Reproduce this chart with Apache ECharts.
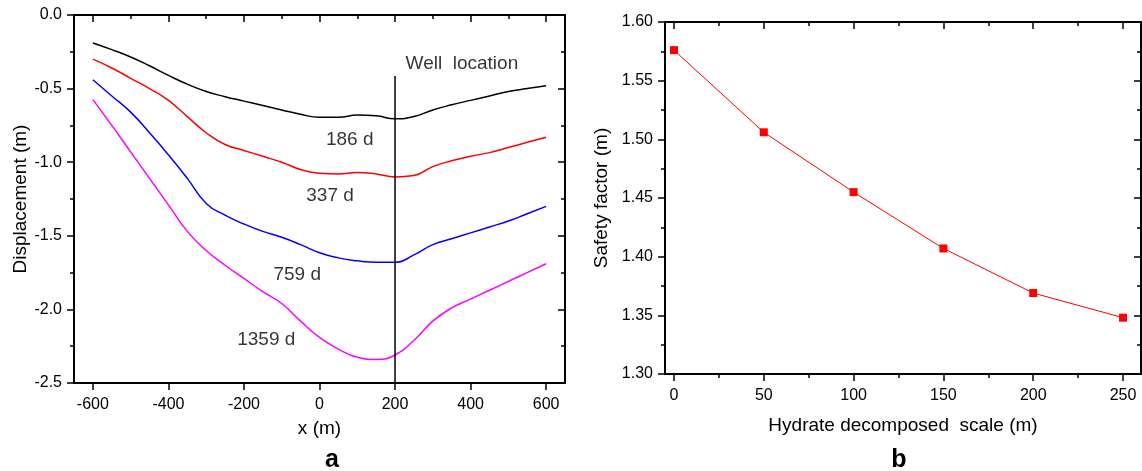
<!DOCTYPE html>
<html>
<head>
<meta charset="utf-8">
<script src="https://cdn.jsdelivr.net/npm/echarts@6/dist/echarts.min.js"></script>
<style>
html, body { margin: 0; padding: 0; background: #fff; }
#chart { width: 1142px; height: 471px; }
</style>
</head>
<body>
<div id="chart"></div>
<script>
// ---- Panel a: surface displacement along x for four production times ----
const xPos = [-600, -550, -500, -450, -400, -350, -300, -250, -200, -150, -100, -50, 0,
              50, 100, 150, 200, 250, 300, 350, 400, 450, 500, 550, 600];
const disp186 = [-0.19, -0.235, -0.285, -0.345, -0.41, -0.47, -0.52, -0.555, -0.585, -0.615, -0.645, -0.675, -0.695,
                 -0.695, -0.68, -0.685, -0.705, -0.69, -0.645, -0.61, -0.58, -0.55, -0.52, -0.50, -0.48];
const disp337 = [-0.30, -0.36, -0.43, -0.50, -0.58, -0.69, -0.80, -0.88, -0.92, -0.96, -1.00, -1.05, -1.075,
                 -1.08, -1.07, -1.08, -1.10, -1.09, -1.03, -0.99, -0.96, -0.935, -0.90, -0.865, -0.83];
const disp759 = [-0.44, -0.55, -0.66, -0.80, -0.95, -1.11, -1.28, -1.36, -1.42, -1.47, -1.51, -1.56, -1.615,
                 -1.65, -1.67, -1.68, -1.68, -1.63, -1.56, -1.52, -1.48, -1.44, -1.40, -1.35, -1.30];
const disp1359 = [-0.575, -0.75, -0.93, -1.11, -1.29, -1.47, -1.60, -1.70, -1.79, -1.88, -1.96, -2.08, -2.19,
                  -2.27, -2.325, -2.34, -2.31, -2.21, -2.08, -1.99, -1.93, -1.87, -1.81, -1.75, -1.69];
const curveNames = ['186 d', '337 d', '759 d', '1359 d'];
const curveColors = ['#000000', '#ff0000', '#0000ff', '#ff00ff'];

// Well marker and text annotations (data coordinates)
const wellX = 200;
const wellTop = -0.415;
const noteText = ['186 d', '337 d', '759 d', '1359 d', 'Well  location'];
const noteX = [80, 28, -59, -141, 377];
const noteY = [-0.845, -1.23, -1.766, -2.208, -0.33];

const xTicksA = [-600, -400, -200, 0, 200, 400, 600];
const xMinorA = [-500, -300, -100, 100, 300, 500];

// ---- Panel b: safety factor vs hydrate decomposed scale ----
const scaleB = [0, 50, 100, 150, 200, 250];
const safetyB = [1.576, 1.506, 1.455, 1.407, 1.369, 1.348];
const xTicksB = [0, 50, 100, 150, 200, 250];
const xMinorB = [25, 75, 125, 175, 225];

const FONT = '"Liberation Sans", Arial, sans-serif';
const lineStyleAxis = { color: '#000', width: 2 };
const tickStyle = { color: '#000', width: 1.5 };

function zip(xs, ys) { return xs.map((x, i) => [x, ys[i]]); }

function xAxisSet(grid, min, max, major, minor, name, nameGap) {
  return [
    { gridIndex: grid, type: 'value', position: 'bottom', min, max,
      axisLine: { show: true, onZero: false, lineStyle: lineStyleAxis },
      axisTick: { show: true, inside: false, length: 7, lineStyle: tickStyle, customValues: major },
      axisLabel: { show: true, customValues: major, margin: 14, fontSize: 16, color: '#000', fontFamily: FONT },
      splitLine: { show: false },
      name, nameLocation: 'middle', nameGap,
      nameTextStyle: { fontSize: 19, color: '#000', fontFamily: FONT } },
    { gridIndex: grid, type: 'value', position: 'bottom', min, max,
      axisLine: { show: false },
      axisTick: { show: true, inside: false, length: 4, lineStyle: tickStyle, customValues: minor },
      axisLabel: { show: false }, splitLine: { show: false } },
    { gridIndex: grid, type: 'value', position: 'top', min, max,
      axisLine: { show: true, onZero: false, lineStyle: lineStyleAxis },
      axisTick: { show: true, inside: true, length: 7, lineStyle: tickStyle, customValues: major },
      axisLabel: { show: false }, splitLine: { show: false } },
    { gridIndex: grid, type: 'value', position: 'top', min, max,
      axisLine: { show: false },
      axisTick: { show: true, inside: true, length: 4, lineStyle: tickStyle, customValues: minor },
      axisLabel: { show: false }, splitLine: { show: false } }
  ];
}

function yAxisSet(grid, min, max, interval, digits, name, nameGap) {
  return [
    { gridIndex: grid, type: 'value', position: 'left', min, max, interval,
      axisLine: { show: true, onZero: false, lineStyle: lineStyleAxis },
      axisTick: { show: true, inside: false, length: 7, lineStyle: tickStyle },
      minorTick: { show: true, splitNumber: 2, length: 4, lineStyle: tickStyle },
      axisLabel: { show: true, margin: 12, fontSize: 16, color: '#000', fontFamily: FONT,
                   formatter: v => v.toFixed(digits) },
      splitLine: { show: false }, minorSplitLine: { show: false },
      name, nameLocation: 'middle', nameGap,
      nameTextStyle: { fontSize: 19, color: '#000', fontFamily: FONT } },
    { gridIndex: grid, type: 'value', position: 'right', min, max, interval,
      axisLine: { show: true, onZero: false, lineStyle: lineStyleAxis },
      axisTick: { show: true, inside: true, length: 7, lineStyle: tickStyle },
      minorTick: { show: true, splitNumber: 2, length: 4, lineStyle: tickStyle },
      axisLabel: { show: false },
      splitLine: { show: false }, minorSplitLine: { show: false } }
  ];
}

const dispSeries = [disp186, disp337, disp759, disp1359].map((ys, i) => ({
  type: 'line', name: curveNames[i], xAxisIndex: 0, yAxisIndex: 0,
  data: zip(xPos, ys), smooth: 0.5, showSymbol: false, symbol: 'none',
  lineStyle: { color: curveColors[i], width: 1.5 }, z: 3
}));

const option = {
  backgroundColor: '#fff',
  animation: false,
  grid: [
    { left: 74, top: 15, width: 491, height: 368, outerBoundsMode: 'none', containLabel: false },
    { left: 665, top: 22, width: 476, height: 352, outerBoundsMode: 'none', containLabel: false }
  ],
  xAxis: [
    ...xAxisSet(0, -650, 650, xTicksA, xMinorA, 'x (m)', 36),
    ...xAxisSet(1, -5, 260, xTicksB, xMinorB, 'Hydrate decomposed  scale (m)', 42)
  ],
  yAxis: [
    ...yAxisSet(0, -2.5, 0, 0.5, 1, 'Displacement (m)', 44),
    ...yAxisSet(1, 1.30, 1.60, 0.05, 2, 'Safety factor (m)', 54)
  ],
  series: [
    ...dispSeries,
    { type: 'line', xAxisIndex: 0, yAxisIndex: 0, symbol: 'none',
      data: [[wellX, wellTop], [wellX, -2.5]],
      lineStyle: { color: '#000', width: 1.5 }, z: 4 },
    { type: 'scatter', xAxisIndex: 0, yAxisIndex: 0, symbolSize: 0,
      itemStyle: { color: '#000' },
      data: noteText.map((t, i) => ({ name: t, value: [noteX[i], noteY[i]] })),
      label: { show: true, position: 'inside', formatter: p => p.name,
               fontSize: 19, color: '#000', textBorderWidth: 0, fontFamily: FONT },
      emphasis: { disabled: true }, z: 5 },
    { type: 'line', xAxisIndex: 4, yAxisIndex: 2,
      data: zip(scaleB, safetyB), symbol: 'rect', symbolSize: 8, showSymbol: true,
      lineStyle: { color: '#ff0000', width: 1 },
      itemStyle: { color: '#ff0000' }, z: 3 }
  ],
  graphic: [
    { type: 'text', x: 332, y: 460,
      style: { text: 'a', fontSize: 25, fontWeight: 'bold', fontFamily: FONT, fill: '#000',
               align: 'center', verticalAlign: 'middle' } },
    { type: 'text', x: 899, y: 460,
      style: { text: 'b', fontSize: 25, fontWeight: 'bold', fontFamily: FONT, fill: '#000',
               align: 'center', verticalAlign: 'middle' } }
  ]
};

const chart = echarts.init(document.getElementById('chart'), null, { renderer: 'canvas' });
chart.setOption(option);
</script>
</body>
</html>
